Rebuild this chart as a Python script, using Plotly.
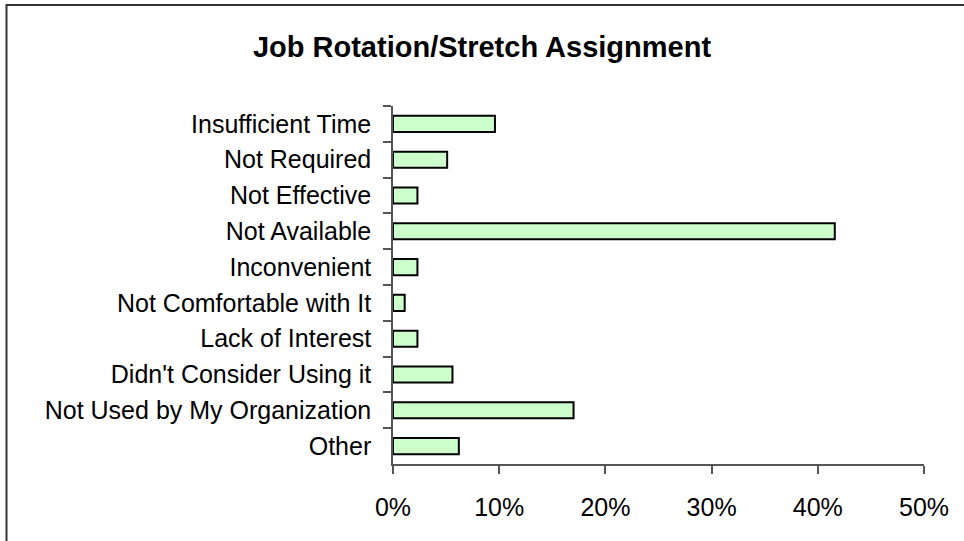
import plotly.graph_objects as go

categories = [
    "Insufficient Time",
    "Not Required",
    "Not Effective",
    "Not Available",
    "Inconvenient",
    "Not Comfortable with It",
    "Lack of Interest",
    "Didn't Consider Using it",
    "Not Used by My Organization",
    "Other",
]
percent_values = [9.6, 5.1, 2.3, 41.6, 2.3, 1.1, 2.3, 5.6, 17.0, 6.2]
x_tick_values = [0, 10, 20, 30, 40, 50]
x_tick_labels = ["0%", "10%", "20%", "30%", "40%", "50%"]

W, H = 964, 541
ML, MR, MT, MB = 393, 40, 106, 77
PW, PH = W - ML - MR, H - MT - MB

fig = go.Figure(
    go.Bar(
        x=percent_values,
        y=categories,
        orientation="h",
        width=0.45,
        marker=dict(color="#CCFFCC", line=dict(color="#000000", width=2)),
        hoverinfo="x+y",
    )
)

axis_color = "#555555"
font_family = "Liberation Sans, Arial, sans-serif"

fig.update_layout(
    width=W,
    height=H,
    margin=dict(l=ML, r=MR, t=MT, b=MB),
    paper_bgcolor="white",
    plot_bgcolor="white",
    showlegend=False,
    font=dict(family=font_family, color="#000000", size=25),
    title=dict(
        text="<b>Job Rotation/Stretch Assignment</b>",
        x=0.5,
        xref="container",
        xanchor="center",
        y=1 - 47 / H,
        yref="container",
        yanchor="middle",
        font=dict(family=font_family, size=29, color="#000000"),
    ),
    xaxis=dict(
        range=[0, 50],
        tickvals=x_tick_values,
        ticktext=x_tick_labels,
        showgrid=False,
        zeroline=False,
        showline=True,
        linecolor=axis_color,
        linewidth=1.5,
        ticks="outside",
        ticklen=8,
        tickwidth=1.5,
        tickcolor=axis_color,
        ticklabelstandoff=12,
        tickfont=dict(size=25, family=font_family, color="#000000"),
        fixedrange=True,
    ),
    yaxis=dict(
        autorange="reversed",
        type="category",
        showgrid=False,
        zeroline=False,
        showline=True,
        linecolor=axis_color,
        linewidth=1.5,
        ticks="outside",
        tickson="boundaries",
        ticklen=8,
        tickwidth=1.5,
        tickcolor=axis_color,
        ticklabelstandoff=15,
        tickfont=dict(size=25, family=font_family, color="#000000"),
        fixedrange=True,
    ),
    shapes=[
        dict(
            type="rect",
            xref="paper",
            yref="paper",
            x0=(6.5 - ML) / PW,
            x1=(975 - ML) / PW,
            y0=(H - MB - 560) / PH,
            y1=(H - MB - 5) / PH,
            line=dict(color="#333333", width=2),
            fillcolor="rgba(0,0,0,0)",
            layer="below",
        )
    ],
)

fig.write_html(
    "out.html",
    config={"displayModeBar": False},
    post_script="document.body.style.margin='0';document.body.style.padding='0';document.body.style.overflow='hidden';",
)
